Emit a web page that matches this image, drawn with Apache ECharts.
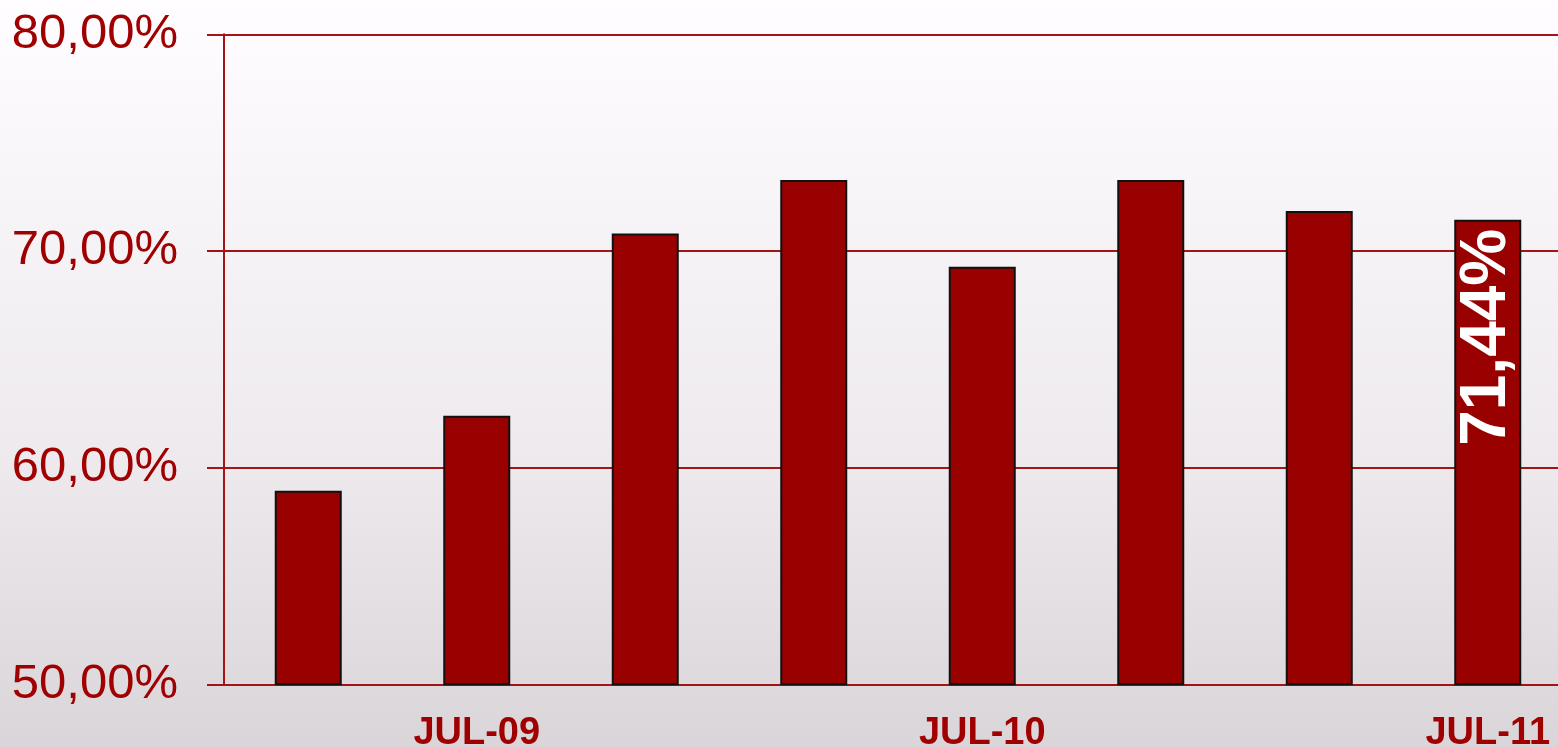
<!DOCTYPE html>
<html>
<head>
<meta charset="utf-8">
<script src="https://cdn.jsdelivr.net/npm/echarts@6/dist/echarts.min.js"></script>
<style>
html,body{margin:0;padding:0;width:1558px;height:747px;overflow:hidden;}
#c{width:1572px;height:747px;}
</style>
</head>
<body>
<div id="c"></div>
<script>
var categories = ['MAR-09','JUL-09','NOV-09','MAR-10','JUL-10','NOV-10','MAR-11','JUL-11'];
var values = [58.93, 62.40, 70.81, 73.27, 69.27, 73.27, 71.85, 71.44];
var yMin = 50, yMax = 80, yInterval = 10;
var labelledIndex = 7;

var red = '#a31515';
var chart = echarts.init(document.getElementById('c'));
chart.setOption({
  backgroundColor: new echarts.graphic.LinearGradient(0,0,0,1,[
    {offset:0,color:'#fffdff'},{offset:0.6,color:'#eeeaee'},{offset:1,color:'#d9d5d9'}
  ]),
  animation:false,
  grid:{left:224, top:34.3, height:650, right:0, containLabel:false, outerBoundsMode:'none'},
  xAxis:{
    type:'category', data:categories, boundaryGap:true,
    axisLine:{show:true, lineStyle:{color:red, width:2}},
    axisTick:{show:false},
    axisLabel:{
      interval:function(i){return i%3===1;},
      color:'#a00000', fontFamily:'Liberation Sans', fontWeight:'bold', fontSize:38, margin:30
    },
    splitLine:{show:false}
  },
  yAxis:{
    type:'value', min:yMin, max:yMax, interval:yInterval,
    axisLine:{show:true, lineStyle:{color:red, width:2}},
    axisTick:{show:true, length:17, lineStyle:{color:red, width:2}},
    splitLine:{show:true, lineStyle:{color:red, width:2}},
    axisLabel:{
      color:'#a00000', fontFamily:'Liberation Sans', fontSize:49, margin:46,
      formatter:function(v){return v.toFixed(2).replace('.',',')+'%';}
    }
  },
  series:[{
    type:'bar', barWidth:67,
    data:values.map(function(v,i){
      var d = {value:v};
      if(i===labelledIndex){
        d.label = {show:true, position:'insideTop', rotate:90, align:'right', verticalAlign:'middle',
          distance:9, color:'#ffffff', fontFamily:'Liberation Sans', fontWeight:'bold', fontSize:64,
          formatter:function(p){return p.value.toFixed(2).replace('.',',')+'%';}};
      }
      return d;
    }),
    itemStyle:{color:'#990000', borderColor:'#111111', borderWidth:2},
    label:{show:false}
  }]
});
</script>
</body>
</html>
